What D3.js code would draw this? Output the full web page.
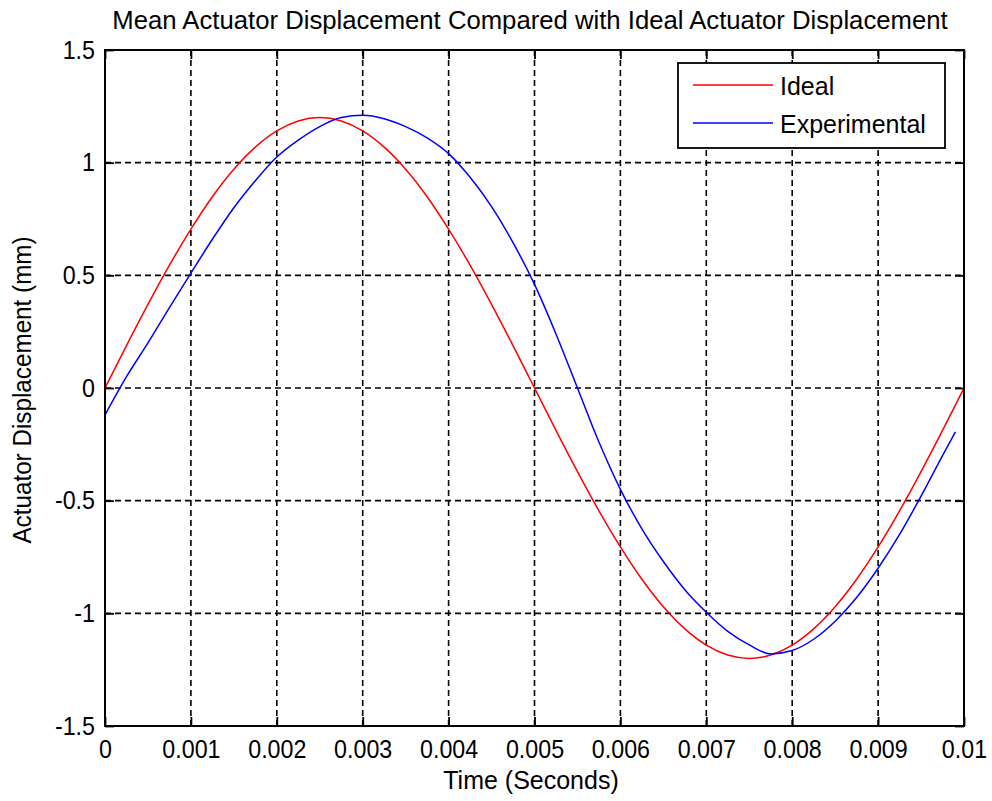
<!DOCTYPE html>
<html>
<head>
<meta charset="utf-8">
<script src="https://cdn.jsdelivr.net/npm/d3@7"></script>
<style>
  html, body { margin: 0; padding: 0; background: #fff; }
  svg { display: block; }
  text { font-family: "Liberation Sans", Arial, Helvetica, sans-serif; fill: #000; }
</style>
</head>
<body>
<svg id="chart" width="992" height="801"></svg>
<script>
// Sample times (s)
const timeIdeal = [
  0, 0.00025, 0.0005, 0.00075, 0.001, 0.00125, 0.0015, 0.00175, 0.002, 0.00225,
  0.0025, 0.00275, 0.003, 0.00325, 0.0035, 0.00375, 0.004, 0.00425, 0.0045, 0.00475,
  0.005, 0.00525, 0.0055, 0.00575, 0.006, 0.00625, 0.0065, 0.00675, 0.007, 0.00725,
  0.0075, 0.00775, 0.008, 0.00825, 0.0085, 0.00875, 0.009, 0.00925, 0.0095, 0.00975, 0.01
];
// Ideal actuator displacement (mm)
const idealValues = [
  0, 0.188, 0.371, 0.545, 0.705, 0.849, 0.971, 1.069, 1.141, 1.185,
  1.2, 1.185, 1.141, 1.069, 0.971, 0.849, 0.705, 0.545, 0.371, 0.188,
  0, -0.188, -0.371, -0.545, -0.705, -0.849, -0.971, -1.069, -1.141, -1.185,
  -1.2, -1.185, -1.141, -1.069, -0.971, -0.849, -0.705, -0.545, -0.371, -0.188, 0
];
const timeExperimental = [
  0, 0.00025, 0.0005, 0.00075, 0.001, 0.00125, 0.0015, 0.00175, 0.002, 0.00225,
  0.0025, 0.00275, 0.003, 0.00325, 0.0035, 0.00375, 0.004, 0.00425, 0.0045, 0.00475,
  0.005, 0.00525, 0.0055, 0.00575, 0.006, 0.00625, 0.0065, 0.00675, 0.007, 0.00725,
  0.0075, 0.00775, 0.008, 0.00825, 0.0085, 0.00875, 0.009, 0.00925, 0.0095, 0.00975, 0.0099
];
// Mean measured actuator displacement (mm)
const experimentalValues = [
  -0.12, 0.05, 0.20, 0.357, 0.51, 0.66, 0.80, 0.92, 1.025, 1.10,
  1.16, 1.20, 1.21, 1.195, 1.16, 1.11, 1.04, 0.935, 0.805, 0.645,
  0.46, 0.24, 0.0, -0.24, -0.45, -0.625, -0.77, -0.895, -0.995, -1.08,
  -1.14, -1.18, -1.165, -1.115, -1.035, -0.93, -0.80, -0.65, -0.48, -0.30, -0.195
];
const xTicks = [0, 0.001, 0.002, 0.003, 0.004, 0.005, 0.006, 0.007, 0.008, 0.009, 0.01];
const xTickLabels = ["0", "0.001", "0.002", "0.003", "0.004", "0.005", "0.006", "0.007", "0.008", "0.009", "0.01"];
const yTicks = [-1.5, -1, -0.5, 0, 0.5, 1, 1.5];
const yTickLabels = ["-1.5", "-1", "-0.5", "0", "0.5", "1", "1.5"];
const seriesNames = ["Ideal", "Experimental"];
const seriesColors = ["#ff0000", "#0000ff"];

const titleText = "Mean Actuator Displacement Compared with Ideal Actuator Displacement";
const xLabel = "Time (Seconds)";
const yLabel = "Actuator Displacement (mm)";

const svg = d3.select("#chart");
const plotLeft = 105, plotRight = 964, plotTop = 50, plotBottom = 726;
const fontSize = 25;

const x = d3.scaleLinear().domain([0, 0.01]).range([plotLeft, plotRight]);
const y = d3.scaleLinear().domain([-1.5, 1.5]).range([plotBottom, plotTop]);

// dashed grid
const grid = svg.append("g").attr("stroke", "#000").attr("stroke-width", 1.6)
  .attr("stroke-dasharray", "6,4").attr("fill", "none");
grid.selectAll("line.v").data(xTicks.slice(1, -1)).join("line").attr("class", "v")
  .attr("x1", d => x(d)).attr("x2", d => x(d)).attr("y1", plotTop).attr("y2", plotBottom);
grid.selectAll("line.h").data(yTicks.slice(1, -1)).join("line").attr("class", "h")
  .attr("y1", d => y(d)).attr("y2", d => y(d)).attr("x1", plotLeft).attr("x2", plotRight);

// axes with inward ticks on all four sides
const tickLen = 9;
const fmtX = d => xTickLabels[xTicks.indexOf(d)];
const fmtY = d => yTickLabels[yTicks.indexOf(d)];
const axB = svg.append("g").attr("transform", `translate(0,${plotBottom})`)
  .call(d3.axisBottom(x).tickValues(xTicks).tickFormat(fmtX).tickSizeInner(-tickLen).tickSizeOuter(0).tickPadding(14));
const axT = svg.append("g").attr("transform", `translate(0,${plotTop})`)
  .call(d3.axisTop(x).tickValues(xTicks).tickFormat("").tickSizeInner(-tickLen).tickSizeOuter(0));
const axL = svg.append("g").attr("transform", `translate(${plotLeft},0)`)
  .call(d3.axisLeft(y).tickValues(yTicks).tickFormat(fmtY).tickSizeInner(-tickLen).tickSizeOuter(0).tickPadding(10));
const axR = svg.append("g").attr("transform", `translate(${plotRight},0)`)
  .call(d3.axisRight(y).tickValues(yTicks).tickFormat("").tickSizeInner(-tickLen).tickSizeOuter(0));
[axB, axT, axL, axR].forEach(a => {
  a.select(".domain").remove();
  a.selectAll(".tick line").attr("stroke", "#000").attr("stroke-width", 1.8);
  a.selectAll("text").attr("font-size", fontSize).attr("fill", "#000")
    .attr("font-family", "'Liberation Sans', Arial, sans-serif")
    .attr("data-squeeze", 0.93);
});
axB.selectAll(".tick text").attr("dy", "0.71em");

// series
const line = d3.line().x(d => x(d[0])).y(d => y(d[1])).curve(d3.curveMonotoneX);
const series = [
  d3.zip(timeIdeal, idealValues),
  d3.zip(timeExperimental, experimentalValues)
];
svg.append("g").selectAll("path").data(series).join("path")
  .attr("d", line).attr("fill", "none")
  .attr("stroke", (d, i) => seriesColors[i]).attr("stroke-width", 1.5)
  .attr("stroke-linejoin", "round");

// plot frame
svg.append("rect").attr("x", plotLeft).attr("y", plotTop)
  .attr("width", plotRight - plotLeft).attr("height", plotBottom - plotTop)
  .attr("fill", "none").attr("stroke", "#000").attr("stroke-width", 2);

// legend
const lg = svg.append("g");
lg.append("rect").attr("x", 678).attr("y", 63).attr("width", 267).attr("height", 85)
  .attr("fill", "#fff").attr("stroke", "#000").attr("stroke-width", 1.8);
seriesNames.forEach((name, i) => {
  const yy = 86 + i * 38;
  lg.append("line").attr("x1", 693).attr("x2", 773).attr("y1", yy - 1).attr("y2", yy - 1)
    .attr("stroke", seriesColors[i]).attr("stroke-width", 1.5);
  lg.append("text").attr("x", 780).attr("y", yy).attr("dy", "0.36em")
    .attr("font-size", fontSize).text(name);
});

// title and axis labels
svg.append("text").attr("x", 530).attr("y", 29)
  .attr("text-anchor", "middle").attr("font-size", 25.7).text(titleText);
svg.append("text").attr("x", 531).attr("y", 789)
  .attr("text-anchor", "middle").attr("font-size", fontSize).text(xLabel);
svg.append("text").attr("transform", `translate(31,${(plotTop + plotBottom) / 2 + 2}) rotate(-90)`)
  .attr("text-anchor", "middle").attr("font-size", fontSize)
  .attr("data-squeeze", 0.97).text(yLabel);

// narrow the tick and axis-label glyphs slightly
svg.selectAll("text[data-squeeze]").each(function () {
  const k = +this.getAttribute("data-squeeze");
  const n = this.getComputedTextLength();
  if (n > 0) d3.select(this).attr("textLength", n * k).attr("lengthAdjust", "spacingAndGlyphs");
});
</script>
</body>
</html>
